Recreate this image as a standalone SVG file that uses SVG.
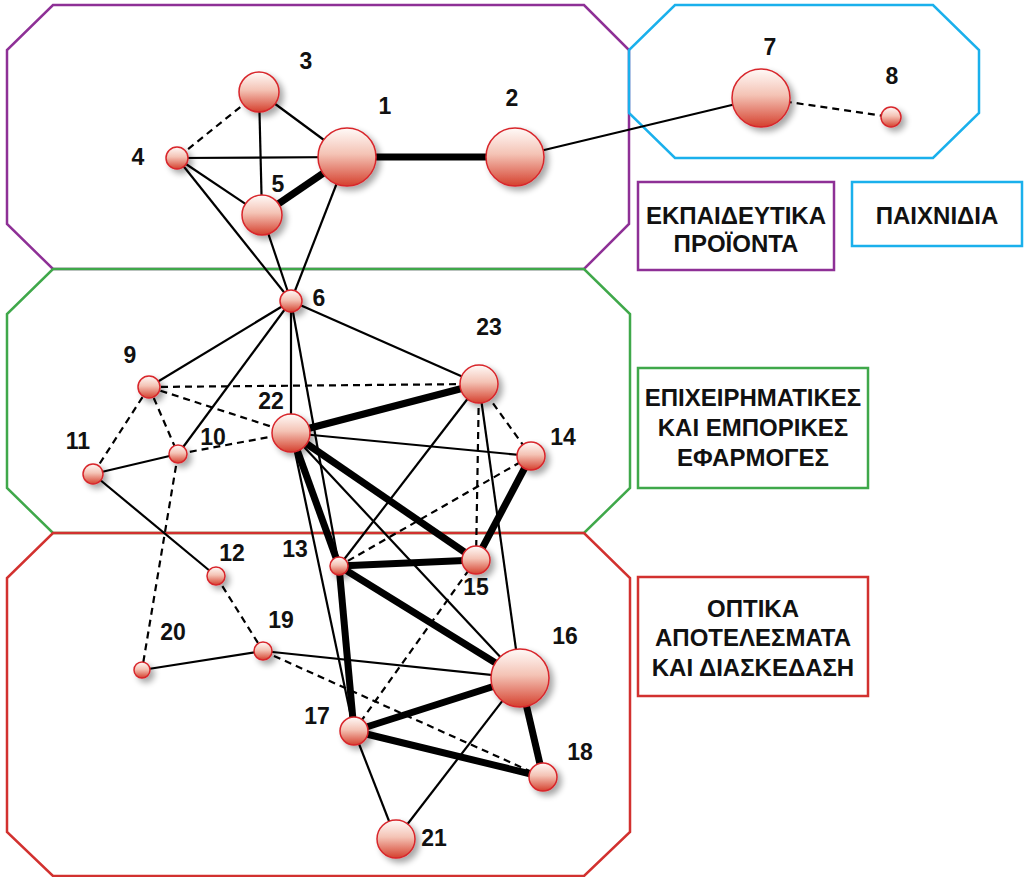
<svg xmlns="http://www.w3.org/2000/svg" width="1025" height="877" viewBox="0 0 1025 877">
<style>
.oct{fill:none;stroke-width:2.5}
.e{stroke:#000;stroke-width:2.2;fill:none}
.t{stroke:#000;stroke-width:7;fill:none}
.d{stroke:#000;stroke-width:2.2;stroke-dasharray:7,5;fill:none}
.n{fill:url(#g);stroke:#d8262c;stroke-width:1.5;filter:url(#sh)}
.lb{font-family:"Liberation Sans",Arial,sans-serif;font-weight:bold;font-size:23px;fill:#111;text-anchor:middle}
.lg{font-family:"Liberation Sans",Arial,sans-serif;font-weight:bold;font-size:24px;fill:#111;text-anchor:middle}
</style>
<defs>
<linearGradient id="g" x1="0" y1="0" x2="0" y2="1">
<stop offset="0" stop-color="#fffaf8"/>
<stop offset="0.45" stop-color="#f4c3b5"/>
<stop offset="1" stop-color="#d5402e"/>
</linearGradient>
<filter id="sh" x="-50%" y="-50%" width="220%" height="220%">
<feGaussianBlur in="SourceAlpha" stdDeviation="3"/>
<feOffset dx="4" dy="4" result="b"/>
<feComponentTransfer><feFuncA type="linear" slope="0.35"/></feComponentTransfer>
<feMerge><feMergeNode/><feMergeNode in="SourceGraphic"/></feMerge>
</filter>
</defs>
<g id="groups">
<polygon class="oct" stroke="#8e3096" points="53,5 584,5 629,50 629,224 584,269 53,269 7,224 7,50"/>
<polygon class="oct" stroke="#1ab0ec" points="675,5 933,5 979,50 979,113 933,158 675,158 629,113 629,50"/>
<polygon class="oct" stroke="#3fa84a" points="53,269 584,269 630,314 630,488 584,533 53,533 7,488 7,314"/>
<polygon class="oct" stroke="#d2312f" points="53,533 584,533 630,578 630,832 584,876 53,876 7,832 7,578"/>
</g>
<g id="legend">
<rect x="638" y="182" width="196" height="88" fill="none" stroke="#8e3096" stroke-width="2.5"/>
<text class="lg" x="736" y="224">ΕΚΠΑΙΔΕΥΤΙΚΑ</text>
<text class="lg" x="736" y="252">ΠΡΟΪΟΝΤΑ</text>
<rect x="852" y="182" width="170" height="64" fill="none" stroke="#1ab0ec" stroke-width="2.5"/>
<text class="lg" x="937" y="224">ΠΑΙΧΝΙΔΙΑ</text>
<rect x="638" y="368" width="230" height="120" fill="none" stroke="#3fa84a" stroke-width="2.5"/>
<text class="lg" x="753" y="406">ΕΠΙΧΕΙΡΗΜΑΤΙΚΕΣ</text>
<text class="lg" x="753" y="436">ΚΑΙ ΕΜΠΟΡΙΚΕΣ</text>
<text class="lg" x="753" y="466">ΕΦΑΡΜΟΓΕΣ</text>
<rect x="638" y="577" width="230" height="119" fill="none" stroke="#d2312f" stroke-width="2.5"/>
<text class="lg" x="753" y="617">ΟΠΤΙΚΑ</text>
<text class="lg" x="753" y="646">ΑΠΟΤΕΛΕΣΜΑΤΑ</text>
<text class="lg" x="753" y="676">ΚΑΙ ΔΙΑΣΚΕΔΑΣΗ</text>
</g>
<g id="connectors">
<line class="t" x1="347" y1="157" x2="515" y2="157"/>
<line class="e" x1="515" y1="157" x2="761" y2="98"/>
<line class="d" x1="761" y1="98" x2="891" y2="117"/>
<line class="t" x1="347" y1="157" x2="262" y2="215"/>
<line class="e" x1="347" y1="157" x2="259" y2="92"/>
<line class="e" x1="347" y1="157" x2="177" y2="158"/>
<line class="d" x1="259" y1="92" x2="177" y2="158"/>
<line class="e" x1="259" y1="92" x2="262" y2="215"/>
<line class="e" x1="177" y1="158" x2="262" y2="215"/>
<line class="e" x1="177" y1="158" x2="291" y2="301"/>
<line class="e" x1="262" y1="215" x2="291" y2="301"/>
<line class="e" x1="347" y1="157" x2="291" y2="301"/>
<line class="e" x1="291" y1="301" x2="149" y2="387"/>
<line class="e" x1="291" y1="301" x2="178" y2="454"/>
<line class="e" x1="291" y1="301" x2="291" y2="433"/>
<line class="e" x1="291" y1="301" x2="479" y2="384"/>
<line class="e" x1="291" y1="301" x2="339" y2="566"/>
<line class="d" x1="149" y1="387" x2="479" y2="384"/>
<line class="d" x1="149" y1="387" x2="291" y2="433"/>
<line class="d" x1="149" y1="387" x2="178" y2="454"/>
<line class="d" x1="149" y1="387" x2="93" y2="474"/>
<line class="e" x1="178" y1="454" x2="93" y2="474"/>
<line class="d" x1="178" y1="454" x2="291" y2="433"/>
<line class="d" x1="178" y1="454" x2="142" y2="670"/>
<line class="e" x1="93" y1="474" x2="216" y2="576"/>
<line class="d" x1="216" y1="576" x2="263" y2="651"/>
<line class="e" x1="263" y1="651" x2="142" y2="670"/>
<line class="e" x1="263" y1="651" x2="520" y2="678"/>
<line class="d" x1="263" y1="651" x2="543" y2="777"/>
<line class="t" x1="291" y1="433" x2="479" y2="384"/>
<line class="e" x1="291" y1="433" x2="531" y2="456"/>
<line class="t" x1="291" y1="433" x2="476" y2="560"/>
<line class="t" x1="291" y1="433" x2="339" y2="566"/>
<line class="e" x1="291" y1="433" x2="520" y2="678"/>
<line class="e" x1="291" y1="433" x2="354" y2="731"/>
<line class="e" x1="479" y1="384" x2="339" y2="566"/>
<line class="d" x1="479" y1="384" x2="476" y2="560"/>
<line class="d" x1="479" y1="384" x2="531" y2="456"/>
<line class="e" x1="479" y1="384" x2="520" y2="678"/>
<line class="t" x1="531" y1="456" x2="476" y2="560"/>
<line class="d" x1="531" y1="456" x2="339" y2="566"/>
<line class="t" x1="339" y1="566" x2="476" y2="560"/>
<line class="t" x1="339" y1="566" x2="520" y2="678"/>
<line class="t" x1="339" y1="566" x2="354" y2="731"/>
<line class="d" x1="476" y1="560" x2="354" y2="731"/>
<line class="t" x1="520" y1="678" x2="354" y2="731"/>
<line class="t" x1="520" y1="678" x2="543" y2="777"/>
<line class="t" x1="354" y1="731" x2="543" y2="777"/>
<line class="e" x1="354" y1="731" x2="396" y2="839"/>
<line class="e" x1="520" y1="678" x2="396" y2="839"/>
</g>
<g id="n1"><circle class="n" cx="347" cy="157" r="29"/><text class="lb" x="385" y="114">1</text></g>
<g id="n2"><circle class="n" cx="515" cy="157" r="29"/><text class="lb" x="512" y="106">2</text></g>
<g id="n3"><circle class="n" cx="259" cy="92" r="20"/><text class="lb" x="306" y="69">3</text></g>
<g id="n4"><circle class="n" cx="177" cy="158" r="11"/><text class="lb" x="138" y="165">4</text></g>
<g id="n5"><circle class="n" cx="262" cy="215" r="20"/><text class="lb" x="278" y="192">5</text></g>
<g id="n6"><circle class="n" cx="291" cy="301" r="11"/><text class="lb" x="319" y="306">6</text></g>
<g id="n7"><circle class="n" cx="761" cy="98" r="29"/><text class="lb" x="770" y="55">7</text></g>
<g id="n8"><circle class="n" cx="891" cy="117" r="10"/><text class="lb" x="892" y="84">8</text></g>
<g id="n9"><circle class="n" cx="149" cy="387" r="11"/><text class="lb" x="130" y="363">9</text></g>
<g id="n10"><circle class="n" cx="178" cy="454" r="9"/><text class="lb" x="213" y="445">10</text></g>
<g id="n11"><circle class="n" cx="93" cy="474" r="10"/><text class="lb" x="78" y="449">11</text></g>
<g id="n12"><circle class="n" cx="216" cy="576" r="9"/><text class="lb" x="232" y="561">12</text></g>
<g id="n13"><circle class="n" cx="339" cy="566" r="9"/><text class="lb" x="295" y="557">13</text></g>
<g id="n14"><circle class="n" cx="531" cy="456" r="14"/><text class="lb" x="563" y="445">14</text></g>
<g id="n15"><circle class="n" cx="476" cy="560" r="14"/><text class="lb" x="476" y="595">15</text></g>
<g id="n16"><circle class="n" cx="520" cy="678" r="29"/><text class="lb" x="565" y="644">16</text></g>
<g id="n17"><circle class="n" cx="354" cy="731" r="14"/><text class="lb" x="317" y="724">17</text></g>
<g id="n18"><circle class="n" cx="543" cy="777" r="14"/><text class="lb" x="580" y="760">18</text></g>
<g id="n19"><circle class="n" cx="263" cy="651" r="9"/><text class="lb" x="281" y="628">19</text></g>
<g id="n20"><circle class="n" cx="142" cy="670" r="8"/><text class="lb" x="173" y="640">20</text></g>
<g id="n21"><circle class="n" cx="396" cy="839" r="19"/><text class="lb" x="434" y="846">21</text></g>
<g id="n22"><circle class="n" cx="291" cy="433" r="19"/><text class="lb" x="271" y="409">22</text></g>
<g id="n23"><circle class="n" cx="479" cy="384" r="19"/><text class="lb" x="489" y="335">23</text></g>
</svg>
